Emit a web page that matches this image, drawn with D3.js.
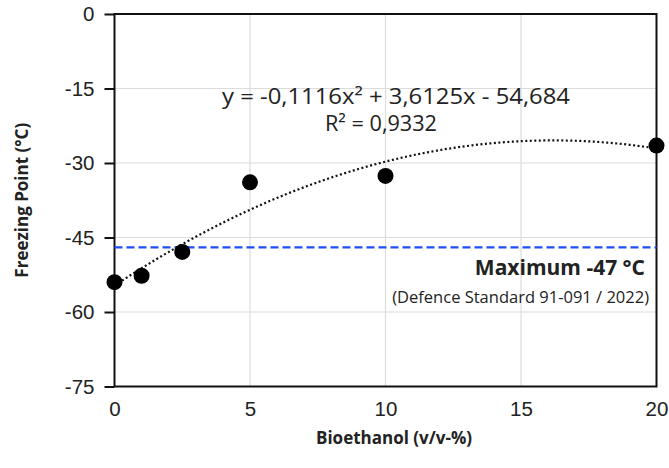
<!DOCTYPE html>
<html>
<head>
<meta charset="utf-8">
<style>
body { margin: 0; background: #fff; }
text { fill: #222; }
</style>
</head>
<body>
<svg id="chart" width="669" height="468"></svg>
<script src="https://cdn.jsdelivr.net/npm/d3@7"></script>
<script>
// measured values
var ethanol = [0, 1, 2.5, 5, 10, 20];
var freezing = [-54.0, -52.7, -47.9, -33.9, -32.6, -26.5];
var xTicks = [0, 5, 10, 15, 20];
var yTicks = [0, -15, -30, -45, -60, -75];
var coef = [-0.1116, 3.6125, -54.684]; // trendline a, b, c
var limit = -47;

var svg = d3.select("#chart");
var pL = 114.5, pR = 656.5, pT = 14, pB = 386.5;
var font = "Open Sans, sans-serif";

var x = d3.scaleLinear().domain([0, 20]).range([pL, pR]);
var y = d3.scaleLinear().domain([-75, 0]).range([pB, pT]);

// grid
svg.append("g").selectAll("line").data(yTicks.slice(1, 5)).enter().append("line")
  .attr("x1", pL).attr("x2", pR)
  .attr("y1", function(d) { return y(d); }).attr("y2", function(d) { return y(d); })
  .attr("stroke", "#dcdcdc").attr("stroke-width", 1.2);
svg.append("g").selectAll("line").data(xTicks.slice(1, 4)).enter().append("line")
  .attr("y1", pT).attr("y2", pB)
  .attr("x1", function(d) { return x(d); }).attr("x2", function(d) { return x(d); })
  .attr("stroke", "#dcdcdc").attr("stroke-width", 1.2);

// axes
var plain = function(d) { return String(d); };
var xAxis = svg.append("g").attr("transform", "translate(0," + pB + ")")
  .call(d3.axisBottom(x).tickValues(xTicks).tickFormat(plain).tickSize(0).tickPadding(15));
var yAxis = svg.append("g").attr("transform", "translate(" + pL + ",0)")
  .call(d3.axisLeft(y).tickValues(yTicks).tickFormat(plain).tickSize(10).tickPadding(10));
[xAxis, yAxis].forEach(function(g) {
  g.select(".domain").remove();
  g.selectAll("text").attr("font-family", "Liberation Sans, Arial, sans-serif")
    .attr("font-size", 20.5).attr("fill", "#222");
  g.selectAll("line").attr("stroke", "#111").attr("stroke-width", 2);
});

// frame
svg.append("rect").attr("x", pL).attr("y", pT)
  .attr("width", pR - pL).attr("height", pB - pT)
  .attr("fill", "none").attr("stroke", "#111").attr("stroke-width", 2);

// limit line
svg.append("line").attr("x1", pL).attr("x2", pR)
  .attr("y1", y(limit)).attr("y2", y(limit))
  .attr("stroke", "#1f4ef5").attr("stroke-width", 2.2).attr("stroke-dasharray", "8,4");

// trendline
var fx = d3.range(0, 20.01, 0.1);
var line = d3.line()
  .x(function(d) { return x(d); })
  .y(function(d) { return y(coef[0] * d * d + coef[1] * d + coef[2]); });
svg.append("path").datum(fx).attr("d", line)
  .attr("fill", "none").attr("stroke", "#111").attr("stroke-width", 2.2)
  .attr("stroke-dasharray", "2,2.5");

// points
svg.append("g").selectAll("circle").data(ethanol).enter().append("circle")
  .attr("cx", function(d) { return x(d); })
  .attr("cy", function(d, i) { return y(freezing[i]); })
  .attr("r", 8).attr("fill", "#000");

// equation
svg.append("text").attr("x", 222).attr("y", 104)
  .attr("font-family", font).attr("font-size", 21)
  .attr("textLength", 348).attr("lengthAdjust", "spacingAndGlyphs")
  .text("y = -0,1116x² + 3,6125x - 54,684");
svg.append("text").attr("x", 325).attr("y", 131)
  .attr("font-family", font).attr("font-size", 21)
  .attr("textLength", 112).attr("lengthAdjust", "spacingAndGlyphs")
  .text("R² = 0,9332");

// limit labels
svg.append("text").attr("x", 645).attr("y", 275).attr("text-anchor", "end")
  .attr("font-family", font).attr("font-weight", "bold").attr("font-size", 21)
  .attr("fill", "#111").text("Maximum -47 °C");
svg.append("text").attr("x", 649).attr("y", 303).attr("text-anchor", "end")
  .attr("font-family", font).attr("font-size", 16.5)
  .text("(Defence Standard 91-091 / 2022)");

// axis titles
svg.append("text").attr("x", 394).attr("y", 444).attr("text-anchor", "middle")
  .attr("font-family", font).attr("font-weight", "bold").attr("font-size", 17)
  .attr("fill", "#111").text("Bioethanol (v/v-%)");
svg.append("text").attr("transform", "translate(28," + ((pT + pB) / 2) + ") rotate(-90)")
  .attr("text-anchor", "middle")
  .attr("font-family", font).attr("font-weight", "bold").attr("font-size", 17)
  .attr("fill", "#111").text("Freezing Point (°C)");
</script>
</body>
</html>
